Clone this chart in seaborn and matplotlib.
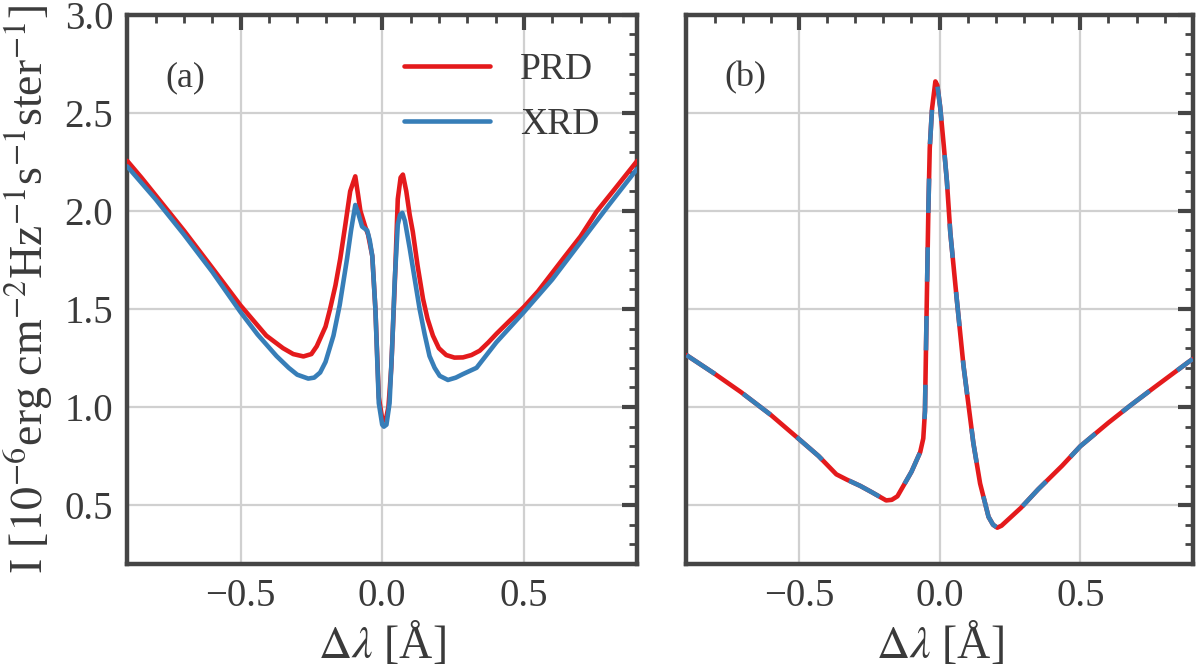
import numpy as np
import pandas as pd
import matplotlib
matplotlib.use("Agg")
import matplotlib.pyplot as plt
from matplotlib.ticker import MultipleLocator, FuncFormatter
import seaborn as sns

# ---------------- data ----------------
# panel (a) PRD
a_prd_x = [-0.9, -0.85, -0.8, -0.7, -0.6, -0.5, -0.409, -0.35, -0.314, -0.278, -0.25, -0.231,
           -0.2, -0.184, -0.165, -0.148, -0.13, -0.113, -0.095, -0.085, -0.077, -0.06, -0.05,
           -0.035, -0.024, -0.012, 0.0, 0.012, 0.022, 0.032, 0.045, 0.055, 0.065, 0.073, 0.085,
           0.097, 0.108, 0.125, 0.144, 0.16, 0.179, 0.2, 0.226, 0.255, 0.285, 0.315, 0.344, 0.375,
           0.403, 0.45, 0.5, 0.55, 0.639, 0.7, 0.757, 0.82, 0.9]
a_prd_y = [2.255, 2.17, 2.08, 1.90, 1.71, 1.518, 1.364, 1.30, 1.27, 1.258, 1.27, 1.31,
           1.41, 1.50, 1.62, 1.757, 1.93, 2.10, 2.176, 2.08, 2.0, 1.92, 1.88,
           1.77, 1.50, 1.05, 0.94, 0.93, 1.0, 1.2, 1.65, 2.06, 2.17, 2.185, 2.1,
           1.98, 1.894, 1.72, 1.552, 1.45, 1.364, 1.30, 1.265, 1.252, 1.253, 1.265, 1.287, 1.33,
           1.373, 1.44, 1.51, 1.59, 1.757, 1.87, 1.997, 2.11, 2.255]
# panel (a) XRD
a_xrd_x = [-0.9, -0.8, -0.7, -0.6, -0.5, -0.44, -0.373, -0.33, -0.3, -0.261, -0.24, -0.219,
           -0.2, -0.172, -0.15, -0.124, -0.11, -0.095, -0.085, -0.071, -0.062, -0.053, -0.044,
           -0.035, -0.024, -0.012, 0.0, 0.006, 0.015, 0.026, 0.035, 0.044, 0.055, 0.063, 0.071,
           0.08, 0.097, 0.115, 0.132, 0.15, 0.167, 0.185, 0.203, 0.232, 0.26, 0.285, 0.333,
           0.403, 0.5, 0.6, 0.7, 0.8, 0.9]
a_xrd_y = [2.227, 2.06, 1.88, 1.69, 1.484, 1.37, 1.26, 1.20, 1.165, 1.145, 1.15, 1.176,
           1.23, 1.364, 1.52, 1.757, 1.90, 2.03, 1.99, 1.92, 1.91, 1.90, 1.85,
           1.77, 1.50, 1.02, 0.91, 0.90, 0.91, 1.02, 1.30, 1.64, 1.93, 1.98, 1.99,
           1.95, 1.81, 1.65, 1.50, 1.37, 1.26, 1.20, 1.159, 1.138, 1.15, 1.168, 1.20,
           1.33, 1.484, 1.65, 1.84, 2.03, 2.215]
# panel (b): PRD and XRD coincide
b_x = [-0.9, -0.8, -0.707, -0.6, -0.5, -0.43, -0.367, -0.33, -0.282, -0.24, -0.19, -0.17,
       -0.15, -0.136, -0.1, -0.069, -0.058, -0.052, -0.046, -0.04, -0.035, -0.027, -0.015,
       -0.008, 0.002, 0.015, 0.026, 0.038, 0.061, 0.085, 0.12, 0.144, 0.174, 0.19, 0.205,
       0.22, 0.289, 0.35, 0.435, 0.5, 0.6, 0.678, 0.763, 0.885, 0.9]
b_prd_y = [1.265, 1.17, 1.077, 0.96, 0.837, 0.75, 0.657, 0.63, 0.598, 0.565, 0.524, 0.527,
           0.545, 0.58, 0.67, 0.77, 0.84, 0.98, 1.5, 2.0, 2.32, 2.52, 2.66,
           2.64, 2.53, 2.33, 2.15, 1.89, 1.55, 1.21, 0.816, 0.61, 0.44, 0.40, 0.385,
           0.395, 0.486, 0.58, 0.70, 0.80, 0.92, 1.008, 1.10, 1.23, 1.245]
b_xrd_y = list(b_prd_y)

labels = ["PRD", "XRD"]
panel_tags = ["(a)", "(b)"]

RED = "#e41a1c"
BLUE = "#377eb8"

# ---------------- style ----------------
sns.set_style("white")
plt.rcParams["font.family"] = ["Liberation Serif", "DejaVu Serif"]
plt.rcParams["mathtext.fontset"] = "stix"
plt.rcParams["axes.unicode_minus"] = True
SPINE = "#454545"
TXT = "#3a3a3a"

fig = plt.figure(figsize=(12, 6.69), dpi=100)
axa = fig.add_axes([0.106, 0.157, 0.425, 0.821])
axb = fig.add_axes([0.572, 0.157, 0.422, 0.821], sharey=axa)

dfa_prd = pd.DataFrame({"x": a_prd_x, "y": a_prd_y})
dfa_xrd = pd.DataFrame({"x": a_xrd_x, "y": a_xrd_y})
dfb_prd = pd.DataFrame({"x": b_x, "y": b_prd_y})
dfb_xrd = pd.DataFrame({"x": b_x, "y": b_xrd_y})

sns.lineplot(data=dfa_prd, x="x", y="y", ax=axa, color=RED, lw=3.3, sort=False,
             estimator=None, label=labels[0], zorder=3)
sns.lineplot(data=dfa_xrd, x="x", y="y", ax=axa, color=BLUE, lw=3.3, sort=False,
             estimator=None, label=labels[1], zorder=4)
sns.lineplot(data=dfb_prd, x="x", y="y", ax=axb, color=RED, lw=3.3, sort=False,
             estimator=None, zorder=3)
sns.lineplot(data=dfb_xrd, x="x", y="y", ax=axb, color=BLUE, lw=3.3, sort=False,
             estimator=None, zorder=4)
axb.lines[-1].set_dashes([7.5, 7.5])

fmt = FuncFormatter(lambda v, p: f"{v:.1f}".replace("-", "\u2212"))

for ax, tag in zip([axa, axb], panel_tags):
    ax.set_xlim(-0.9, 0.9)
    ax.set_ylim(0.2, 3.0)
    ax.xaxis.set_major_locator(MultipleLocator(0.5))
    ax.xaxis.set_minor_locator(MultipleLocator(0.1))
    ax.yaxis.set_major_locator(MultipleLocator(0.5))
    ax.yaxis.set_minor_locator(MultipleLocator(0.1))
    ax.xaxis.set_major_formatter(fmt)
    ax.yaxis.set_major_formatter(fmt)
    ax.grid(True, which="major", color="#d0d0d0", lw=1.6, zorder=0)
    ax.set_axisbelow(True)
    for s in ax.spines.values():
        s.set_color(SPINE)
        s.set_linewidth(3.2)
    ax.tick_params(which="both", direction="in", top=True, right=True, color=SPINE,
                   labelsize=28, labelcolor=TXT, pad=10)
    ax.tick_params(which="major", length=11, width=3)
    ax.tick_params(which="minor", length=6, width=2)
    ax.set_xlabel(r"$\Delta\lambda$ [Å]", fontsize=33, color=TXT, labelpad=4)
    ax.set_ylabel("")
    ax.text(0.075, 0.87, tag, transform=ax.transAxes, fontsize=26, color=TXT)

axb.tick_params(labelleft=False)
axa.set_ylabel(r"I [$10^{-6}$erg cm$^{-2}$Hz$^{-1}$s$^{-1}$ster$^{-1}$]",
               fontsize=33, color=TXT, labelpad=6)

leg = axa.legend(loc="upper right", frameon=False, fontsize=27, handlelength=2.3,
                 handletextpad=0.8, labelspacing=0.55, borderaxespad=0.6)
for t in leg.get_texts():
    t.set_color(TXT)
for l in leg.get_lines():
    l.set_linewidth(3.3)

fig.savefig("out.png", dpi=100)
